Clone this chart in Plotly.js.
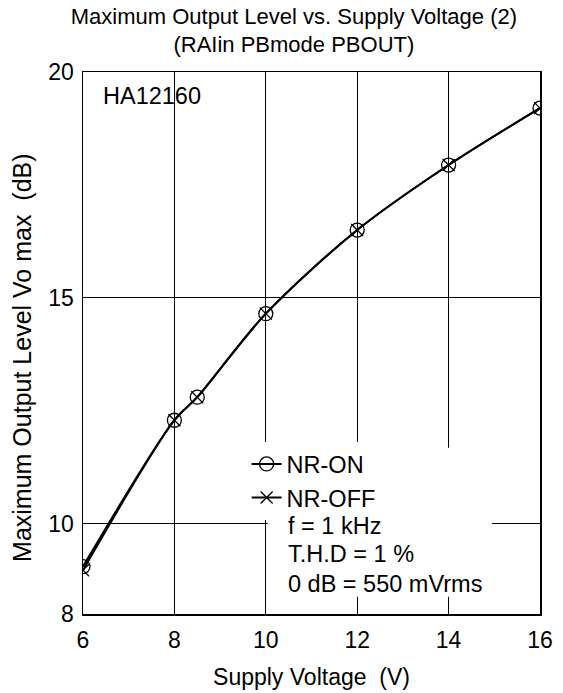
<!DOCTYPE html>
<html>
<head>
<meta charset="utf-8">
<script src="https://cdn.plot.ly/plotly-3.0.1.min.js"></script>
<style>html,body{margin:0;padding:0;background:#fff;}#chart{width:563px;height:693px;}</style>
</head>
<body>
<div id="chart"></div>
<script>
const supplyVoltage = [6, 8, 8.5, 10, 12, 14, 16];
const nrOnLevel = [9.05, 12.29, 12.80, 14.65, 16.50, 17.94, 19.20];
const nrOffLevel = [8.97, 12.29, 12.80, 14.65, 16.50, 17.94, 19.20];
const xTickVals = [6, 8, 10, 12, 14, 16];
const yTickVals = [8, 10, 15, 20];
const noteLines = ['f = 1 kHz', 'T.H.D = 1 %', '0 dB = 550 mVrms'];
const noteY = [9.95, 9.33, 8.67];

const FONT = 'Liberation Sans, Arial, Helvetica, sans-serif';

const traces = [
  {
    x: supplyVoltage, y: nrOffLevel, name: 'NR-OFF', type: 'scatter', mode: 'lines+markers',
    line: {color: '#000', width: 2, shape: 'spline', smoothing: 0.9},
    marker: {symbol: 'x-thin-open', size: 12, color: '#000', line: {color: '#000', width: 1.3}}
  },
  {
    x: supplyVoltage, y: nrOnLevel, name: 'NR-ON', type: 'scatter', mode: 'lines+markers',
    line: {color: '#000', width: 2, shape: 'spline', smoothing: 0.9},
    marker: {symbol: 'circle-open', size: 14, color: '#000', line: {color: '#000', width: 1.3}}
  }
];

const annotations = [
  {text: 'HA12160', x: 0.04, y: 0.955, xref: 'paper', yref: 'paper', xanchor: 'left', yanchor: 'middle',
   showarrow: false, font: {family: FONT, size: 23.5, color: '#000'}},
  {text: 'Maximum Output Level Vo max  (dB)', x: -0.134, y: 0.472, xref: 'paper', yref: 'paper',
   xanchor: 'center', yanchor: 'middle', textangle: -90, showarrow: false,
   font: {family: FONT, size: 25, color: '#000'}}
].concat(noteLines.map((t, i) => ({
  text: t, x: 10.45, y: noteY[i], xref: 'x', yref: 'y', xanchor: 'left', yanchor: 'middle',
  showarrow: false, font: {family: FONT, size: 23.5, color: '#000'}
})));

const layout = {
  width: 563, height: 693,
  margin: {l: 83, r: 23, t: 72, b: 79},
  paper_bgcolor: '#fff', plot_bgcolor: '#fff',
  font: {family: FONT, color: '#000'},
  title: {
    text: 'Maximum Output Level vs. Supply Voltage (2)<br>(RAIin PBmode PBOUT)',
    x: 0.522, xref: 'container', xanchor: 'center', y: 0.966, yref: 'container', yanchor: 'top',
    font: {family: FONT, size: 22, color: '#000'}
  },
  xaxis: {
    range: [6, 16], tickvals: xTickVals, ticktext: xTickVals.map(String),
    showgrid: true, gridcolor: '#000', gridwidth: 1,
    showline: true, linecolor: '#000', linewidth: 1.5, mirror: true,
    ticks: '', ticklabelstandoff: 5, zeroline: false,
    tickfont: {family: FONT, size: 23, color: '#000'},
    title: {text: 'Supply Voltage  (V)', standoff: 17, font: {family: FONT, size: 23, color: '#000'}},
    automargin: false
  },
  yaxis: {
    range: [8, 20], tickvals: yTickVals, ticktext: yTickVals.map(String),
    showgrid: true, gridcolor: '#000', gridwidth: 1,
    showline: true, linecolor: '#000', linewidth: 1.5, mirror: true,
    ticks: '', ticklabelstandoff: 3, zeroline: false,
    tickfont: {family: FONT, size: 23, color: '#000'},
    automargin: false
  },
  showlegend: true,
  legend: {
    x: 0.358, y: 0.317, xanchor: 'left', yanchor: 'top',
    bgcolor: '#fff', borderwidth: 0, traceorder: 'reversed',
    font: {family: FONT, size: 23.5, color: '#000'}, tracegroupgap: 0
  },
  shapes: [
    {type: 'rect', xref: 'x', yref: 'y', x0: 10.04, x1: 14.95, y0: 8.38, y1: 11.68,
     fillcolor: '#fff', line: {width: 0}, layer: 'above'}
  ],
  annotations: annotations
};

Plotly.newPlot('chart', traces, layout, {displayModeBar: false, staticPlot: true});
</script>
</body>
</html>
